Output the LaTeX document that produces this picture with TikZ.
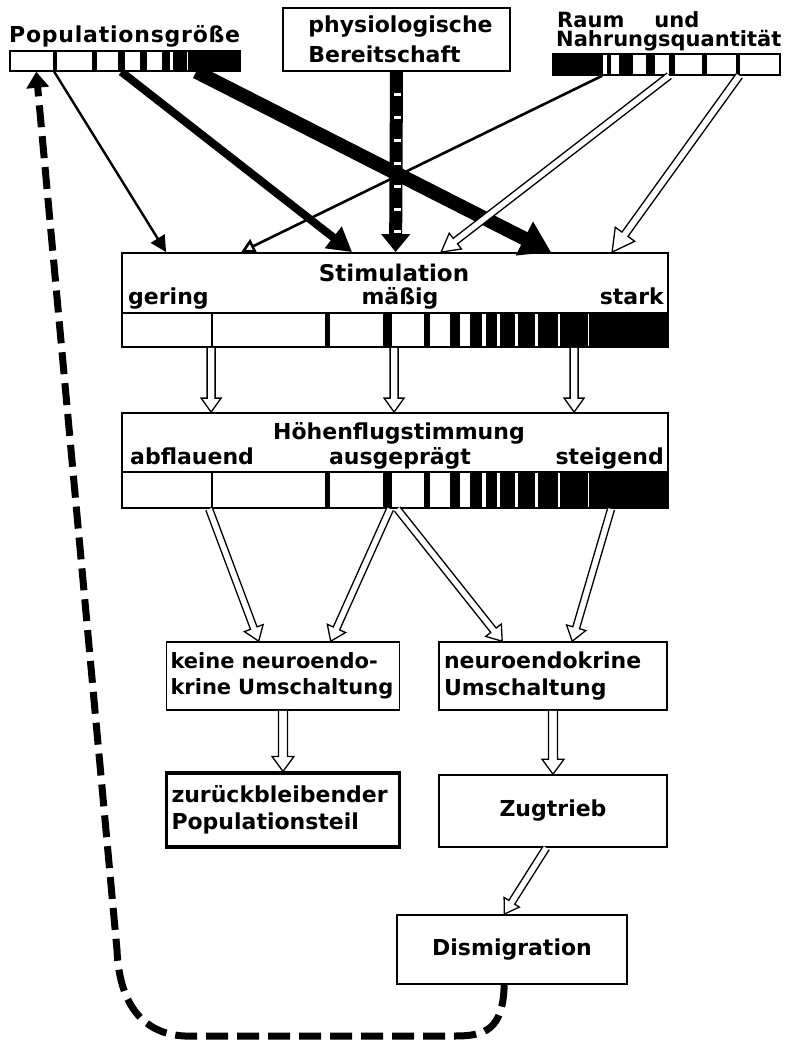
\documentclass[tikz,border=0pt]{standalone}
\usepackage{fontspec}
\newfontfamily\lfa{DejaVu Sans}
\newfontfamily\lfs{DejaVu Sans}[LetterSpace=3.5]
\usetikzlibrary{arrows.meta,calc}
\tikzset{
  lbl/.style={inner sep=0pt, font=\lfa\bfseries\fontsize{22}{27}\selectfont},
  boxn/.style={draw, line width=1.6pt, inner sep=0pt},
  barn/.style={draw, line width=1.5pt, inner sep=0pt},
  hol/.style={draw=black, fill=white, line width=1.3pt, line join=miter},
}
\newcommand{\harr}[5]{%
  \path let \p1=#1, \p2=#2 in \pgfextra{%
    \pgfmathsetmacro\hAng{atan2(\y2-\y1,\x2-\x1)}%
    \pgfmathsetmacro\hLen{veclen(\x2-\x1,\y2-\y1)}%
    \xdef\hAng{\hAng}\xdef\hLen{\hLen}\xdef\hX{\x1}\xdef\hY{\y1}%
  };
  \begin{scope}[shift={(\hX,\hY)}, rotate=\hAng]
    \pgfmathsetmacro\hB{\hLen-#5}
    \filldraw[hol] (0,#3) -- (\hB,#3) -- (\hB,#4) -- (\hLen,0) -- (\hB,-#4) -- (\hB,-#3) -- (0,-#3);
  \end{scope}
}
\begin{document}
\begin{tikzpicture}[x=1pt,y=-1pt]
\useasboundingbox (0,0) rectangle (793,1045);
\fill[white] (0,0) rectangle (793,1045);

% ---------- top row ----------
\foreach \a/\b in {53/57, 92/97, 118/125, 140/147, 162/170, 173/187, 188/240}
  {\fill (\a,51) rectangle (\b,71);}
\node[barn, minimum width=230pt, minimum height=20pt] (popbar) at (125,61) {};
\node[lbl, anchor=base west, font=\lfs\bfseries\fontsize{22}{27}\selectfont] (poplbl) at (9,42) {Populationsgröße};

\node[boxn, minimum width=227pt, minimum height=63pt, align=left,
      font=\lfa\bfseries\fontsize{22}{30}\selectfont] (phys) at (396.5,39.5)
      {\hspace*{8pt}physiologische\\\hspace*{8pt}Bereitschaft};

\foreach \a/\b in {553/603, 607/611, 619/633, 646/655, 669/675, 702/707, 736/740}
  {\fill (\a,54) rectangle (\b,75);}
\node[barn, minimum width=227pt, minimum height=21pt] (raumbar) at (666.5,64.5) {};
\node[lbl, anchor=base west, font=\lfa\bfseries\fontsize{21}{24}\selectfont] (raum1) at (557,27) {Raum\hspace{30pt}und};
\node[lbl, anchor=base west, font=\lfa\bfseries\fontsize{21}{24}\selectfont] (raum2) at (556,46) {Nahrungsquantität};

% ---------- Stimulation ----------
\foreach \a/\b in {210.5/213, 325/330, 383/392, 424/430, 450/460, 470/482, 485.5/497, 500/515, 518/535, 537.5/558, 560/588.3, 589.1/668}
  {\fill (\a,313) rectangle (\b,347);}
\node[boxn, line width=1.8pt, minimum width=546pt, minimum height=94pt] (stim) at (395,300) {};
\draw[line width=1.5pt] (stim.west |- 0,313) -- (stim.east |- 0,313);
\node[lbl, anchor=base, font=\lfa\bfseries\fontsize{23}{27}\selectfont] (stimt) at (394,281) {Stimulation};
\node[lbl, anchor=base west] (ger) at (128,304) {gering};
\node[lbl, anchor=base] (mas) at (400,304) {mäßig};
\node[lbl, anchor=base east] (sta) at (664,304) {stark};

% ---------- Hoehenflugstimmung ----------
\foreach \a/\b in {210.5/213, 325/330, 383/392, 424/430, 450/460, 470/482, 485.5/497, 500/515, 518/535, 537.5/558, 560/588.3, 589.1/668}
  {\fill (\a,472) rectangle (\b,508);}
\node[boxn, line width=1.8pt, minimum width=546pt, minimum height=95pt] (hoeh) at (395,460.5) {};
\draw[line width=1.5pt] (hoeh.west |- 0,472) -- (hoeh.east |- 0,472);
\node[lbl, anchor=base] (hoeht) at (399,439) {Höhenflugstimmung};
\node[lbl, anchor=base west] (abf) at (130,464) {abflauend};
\node[lbl, anchor=base] (aus) at (400,464) {ausgeprägt};
\node[lbl, anchor=base east] (ste) at (664,464) {steigend};

% ---------- lower boxes ----------
\node[boxn, minimum width=233pt, minimum height=68pt, text width=225pt, align=left,
      font=\lfa\bfseries\fontsize{21}{26}\selectfont] (keine) at (283,676)
      {keine neuroendo-\\krine Umschaltung};
\node[boxn, minimum width=228pt, minimum height=68pt, text width=218pt, align=left,
      font=\lfa\bfseries\fontsize{22}{27}\selectfont] (neuro) at (553,676)
      {neuroendokrine\\Umschaltung};
\node[boxn, line width=3.2pt, minimum width=233pt, minimum height=74pt, text width=223pt, align=left,
      font=\lfa\bfseries\fontsize{22}{27}\selectfont] (zur) at (283,810)
      {zurückbleibender\\Populationsteil};
\node[boxn, minimum width=228pt, minimum height=72pt, font=\lfa\bfseries\fontsize{22}{27}\selectfont] (zug) at (553,811) {Zugtrieb};
\node[boxn, minimum width=230pt, minimum height=69pt, font=\lfa\bfseries\fontsize{22}{27}\selectfont] (dis) at (512,949.5) {Dismigration};

% ---------- top connectors ----------
\draw[line width=2.4pt, -{Triangle[length=16pt,width=16pt]}]
  ($(popbar.south west)+(45,0)$) -- ($(stim.north west)+(45,0)$);
\draw[line width=2.6pt, -{Triangle[open,length=14pt,width=15pt]}]
  ($(raumbar.south west)+(50,0)$) -- ($(stim.north west)+(120,0)$);
\draw[line width=8pt, -{Triangle[length=24pt,width=26pt]}]
  ($(popbar.south west)+(112,0)$) -- ($(stim.north west)+(231,0)$);
\draw[line width=14pt, -{Triangle[length=30pt,width=36pt]}]
  ($(popbar.south west)+(187,0)$) -- ($(stim.north west)+(430,0)$);
\draw[line width=13pt, -{Triangle[length=18pt,width=28pt]}]
  (phys.south) -- ($(stim.north west)+(274.5,0)$);
\foreach \yy in {93,116,139,162,185,208,230}
  {\fill[white] (394,\yy) rectangle (401,\yy+3);}
\harr{($(raumbar.south west)+(117,0)$)}{($(stim.north west)+(320,0)$)}{3.5}{10}{18}
\harr{($(raumbar.south west)+(187,0)$)}{($(stim.north west)+(491,0)$)}{3.7}{12}{22}

% ---------- Stimulation -> Hoehenflug ----------
\harr{($(stim.south west)+(90,0)$)}{($(hoeh.north west)+(90,0)$)}{4}{10}{14}
\harr{($(stim.south west)+(273,0)$)}{($(hoeh.north west)+(273,0)$)}{4}{10}{14}
\harr{($(stim.south west)+(453,0)$)}{($(hoeh.north west)+(453,0)$)}{4}{10}{14}

% ---------- Hoehenflug -> lower ----------
\harr{($(hoeh.south west)+(88,0)$)}{($(keine.north west)+(93,0)$)}{3.5}{10}{14}
\harr{($(hoeh.south west)+(269,0)$)}{($(keine.north west)+(165,0)$)}{3.5}{10}{14}
\harr{($(hoeh.south west)+(276,0)$)}{($(neuro.north west)+(64,0)$)}{3.5}{10}{14}
\harr{($(hoeh.south west)+(490,0)$)}{($(neuro.north west)+(134,0)$)}{3.5}{10}{14}

\harr{(keine.south)}{(zur.north)}{4.5}{11}{15}
\harr{(neuro.south)}{(zug.north)}{4.5}{11}{15}
\harr{($(zug.south west)+(108,0)$)}{($(dis.north west)+(108,0)$)}{3.5}{9}{14}

% ---------- feedback ----------
\draw[line width=7pt, dash pattern=on 22pt off 9pt, -{Triangle[length=16pt,width=22pt]}]
  ($(dis.south west)+(108,0)$) .. controls (503,1030) and (485,1036) .. (455,1036)
  -- (185,1036) .. controls (140,1034) and (119,1000) .. (117,950)
  -- ($(popbar.south west)+(27,0)$);
\end{tikzpicture}
\end{document}
